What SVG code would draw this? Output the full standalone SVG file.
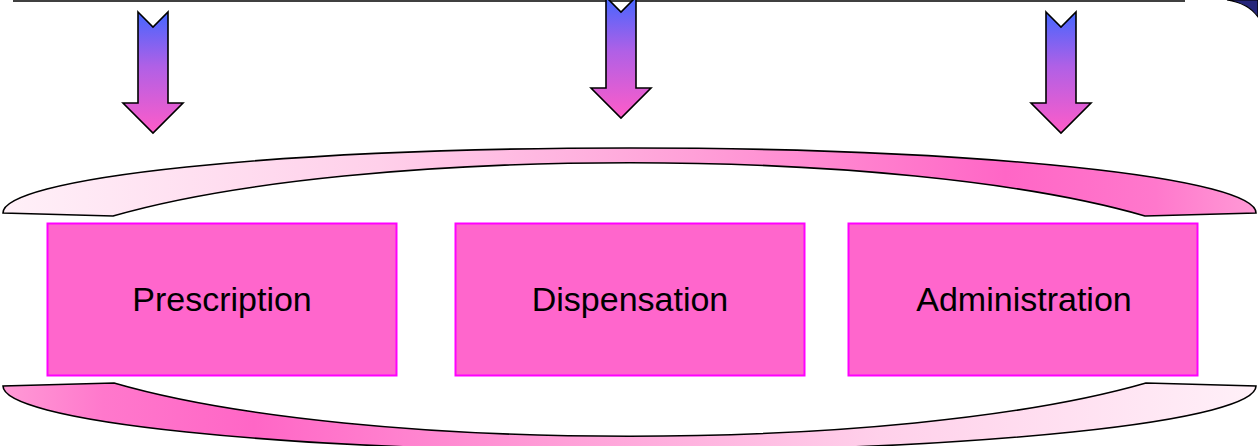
<svg xmlns="http://www.w3.org/2000/svg" width="1258" height="446" viewBox="0 0 1258 446">
  <defs>
    <linearGradient id="arrowGrad" x1="0" y1="0" x2="0" y2="1">
      <stop offset="0" stop-color="#4466ff"/>
      <stop offset="0.45" stop-color="#b060e6"/>
      <stop offset="1" stop-color="#ff5cc8"/>
    </linearGradient>
    <linearGradient id="archGrad" x1="0" y1="0" x2="1" y2="0">
      <stop offset="0" stop-color="#fff0f8"/>
      <stop offset="0.3" stop-color="#ffd0ea"/>
      <stop offset="0.55" stop-color="#ffa0d8"/>
      <stop offset="0.8" stop-color="#ff66c6"/>
      <stop offset="0.92" stop-color="#ff78cc"/>
      <stop offset="1" stop-color="#ff9ad6"/>
    </linearGradient>
    <path id="arch" d="M3,213 A626.5,65 0 0 1 1256,213 L1145,216 C900,145 360,145 113,216 Z"/>
    <style>
      .arrow { fill: url(#arrowGrad); stroke: #000; stroke-width: 1.6; stroke-linejoin: miter; }
      .arch { fill: url(#archGrad); stroke: #000; stroke-width: 1.6; }
      .box { fill: #ff66cc; stroke: #ff00ff; stroke-width: 2; }
      .label { font-family: "Comic Sans MS", "Liberation Sans", sans-serif; font-size: 34px; fill: #000; text-anchor: middle; }
    </style>
  </defs>
  <rect width="1258" height="446" fill="#ffffff"/>

  <g id="top-line">
    <line x1="13" y1="1" x2="1185" y2="1" stroke="#000" stroke-width="1.6"/>
  </g>
  <g id="corner-shape">
    <path d="M1227,0 Q1248,3 1258,17 L1258,0 Z" fill="#25257a" stroke="#000" stroke-width="1.2"/>
  </g>

  <g id="connectors">
    <polygon class="arrow" points="138,12 153,27 168,12 168,103 183,103 153,133 123,103 138,103"/>
    <polygon class="arrow" points="606,-3 621,12 636,-3 636,88 651,88 621,118 591,88 606,88"/>
    <polygon class="arrow" points="1046,12 1061,27 1076,12 1076,103 1091,103 1061,133 1031,103 1046,103"/>
  </g>

  <g id="arch-top">
    <use href="#arch" class="arch"/>
  </g>
  <g id="arch-bottom">
    <use href="#arch" class="arch" transform="rotate(180 629.5 299.5)"/>
  </g>

  <g id="node-prescription">
    <rect class="box" x="47.5" y="223.5" width="349" height="152"/>
    <text class="label" x="222" y="311">Prescription</text>
  </g>
  <g id="node-dispensation">
    <rect class="box" x="455.5" y="223.5" width="349" height="152"/>
    <text class="label" x="630" y="311">Dispensation</text>
  </g>
  <g id="node-administration">
    <rect class="box" x="848.5" y="223.5" width="349" height="152"/>
    <text class="label" x="1024" y="311">Administration</text>
  </g>
</svg>
